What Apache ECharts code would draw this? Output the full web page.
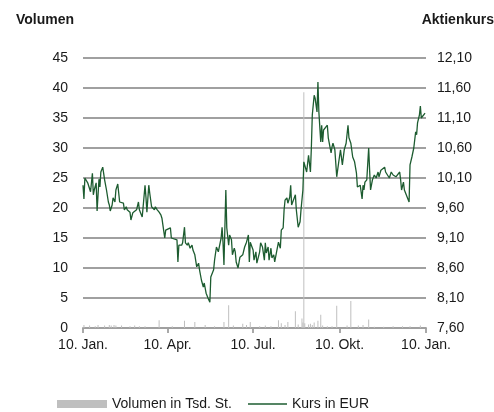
<!DOCTYPE html>
<html><head><meta charset="utf-8">
<script src="https://cdn.jsdelivr.net/npm/echarts@6/dist/echarts.min.js"></script>
<style>html,body{margin:0;padding:0;background:#fff}#c{width:494px;height:412px}</style>
</head><body><div id="c"></div>
<script>
// x tick positions (days since 10 Jan) and labels
const xTickDays = [0, 90, 181, 273, 365];
const xTickLabels = ['10. Jan.', '10. Apr.', '10. Jul.', '10. Okt.', '10. Jan.'];

// Share price (EUR), days since 10 Jan
const kursDays = [0,1,2,5,6,8,9,10,11,12,14,15,17,18,19,21,23,25,27,28,29,31,32,34,35,37,38,39,41,43,44,46,47,49,50,51,53,55,57,59,60,61,63,64,66,67,68,70,71,73,74,76,77,79,81,83,84,85,87,88,90,93,
94,96,100,101,102,105,106,108,109,111,112,114,116,117,119,121,123,124,126,128,129,131,132,133,135,136,138,139,140,142,144,145,147,148,149,150,152,153,155,156,158,159,161,162,163,165,167,170,172,174,176,177,178,181,182,184,185,188,189,191,193,194,195,197,198,200,201,203,204,206,208,210,211,213,214,215,217,218,220,221,222,224,226,227,229,231,232,234,235,237,238,240,242,243,244,246,247,249,250,251,253,254,255,256,258,260,261,264,265,266,268,270,272,274,276,278,280,282,283,285,287,289,290,291,292,294,295,297,298,299,300,302,304,305,306,308,310,312,314,315,317,319,321,322,324,326,328,330,331,333,335,337,338,339,341,342,344,347,348,350,352,354,355,356,358,359,360,362,364];
const kursValues = [9.98,9.75,10.10,10.02,10.02,9.87,10.02,10.18,9.82,9.90,10.02,9.55,10.08,9.95,10.20,10.28,10.07,9.90,9.70,9.65,9.55,9.65,9.77,9.70,9.90,10.00,9.85,9.70,9.72,9.68,9.57,9.62,9.57,9.60,9.53,9.40,9.52,9.53,9.57,9.70,9.57,9.53,9.45,9.62,9.98,9.78,9.53,9.98,9.85,9.62,9.65,9.57,9.62,9.57,9.53,9.48,9.43,9.32,9.10,9.23,9.20,9.27,
9.10,9.10,9.07,8.70,8.98,8.98,9.02,9.28,9.02,8.98,9.02,8.93,8.98,8.90,8.82,8.62,8.68,8.57,8.40,8.28,8.35,8.18,8.15,8.10,8.03,8.45,8.48,8.57,8.73,8.95,8.87,8.85,9.10,9.28,9.02,8.65,9.90,9.27,8.98,9.15,9.07,8.82,8.93,8.87,8.70,8.60,8.78,8.82,8.95,9.03,9.15,8.70,9.03,8.90,8.73,8.87,8.68,8.87,9.02,8.95,8.73,9.02,8.85,8.95,8.73,8.93,8.77,8.82,8.70,8.87,9.03,8.93,9.23,9.27,9.57,9.73,9.77,9.68,9.78,9.98,9.65,9.68,9.82,9.57,9.28,9.37,9.57,9.90,10.37,10.35,10.20,10.48,10.20,10.60,11.15,11.48,11.43,11.20,11.70,11.20,10.70,10.98,10.70,10.90,10.93,10.98,10.77,10.52,10.62,10.68,10.57,10.12,10.35,10.57,10.32,10.57,10.68,10.98,10.77,10.68,10.45,10.37,10.40,10.18,9.95,9.93,9.98,9.75,9.98,9.90,10.03,10.07,10.60,10.23,9.90,10.07,10.15,10.10,10.20,10.12,10.23,10.20,10.28,10.20,10.23,10.10,10.20,10.15,10.12,10.12,10.15,10.20,10.07,9.90,10.03,9.90,9.90,9.70,10.32,10.45,10.60,10.87,10.82,11.02,11.15,11.30,11.10,11.12,11.18];

// Volume (Tsd. St.)
const volDays = [1,7,13,16,23,28,30,33,35,41,50,55,60,66,81,95,108,119,130,140,150,155,160,170,174,178,188,194,200,208,211,215,218,226,229,233,234,235,236,240,242,244,246,250,253,255,260,265,270,281,285,293,298,304,310,320,330,340,348,359];
const volValues = [0.5,0.4,0.3,0.5,0.4,0.5,0.4,0.5,0.4,0.4,0.3,0.4,0.3,0.3,1.3,0.3,1.2,1.0,0.5,0.3,1.0,3.8,0.4,0.7,0.5,1.0,0.3,0.4,0.3,1.3,0.8,0.5,1.0,2.8,0.6,1.6,0.9,39.3,0.8,0.6,0.7,0.5,0.9,1.2,2.2,0.4,0.3,0.3,3.7,0.4,4.5,0.4,0.5,1.4,0.2,0.2,0.3,0.3,0.3,0.4];

const FONT = 'Liberation Sans';
const TXT = '#1a1a1a';
const GRID = '#a0a0a0';
const chart = echarts.init(document.getElementById('c'), null, {renderer: 'canvas'});
chart.setOption({
  animation: false,
  textStyle: {fontFamily: FONT},
  grid: {left: 83, right: 68, top: 58, bottom: 84},
  graphic: [
    {type: 'text', left: 16, top: 13, style: {text: 'Volumen', font: 'bold 14px ' + FONT, fill: TXT}},
    {type: 'text', right: 0, top: 13, style: {text: 'Aktienkurs', font: 'bold 14px ' + FONT, fill: TXT}}
  ],
  legend: [
    {data: [{name: 'Volumen in Tsd. St.', icon: 'rect'}], left: 57, top: 397, padding: 0, itemWidth: 50, itemHeight: 8, itemGap: 6,
     textStyle: {fontSize: 14, color: TXT, fontFamily: FONT}},
    {data: [{name: 'Kurs in EUR', icon: 'rect'}], left: 248, top: 397, padding: 0, itemWidth: 39, itemHeight: 1.5, itemGap: 6,
     textStyle: {fontSize: 14, color: TXT, fontFamily: FONT}}
  ],
  xAxis: {
    type: 'value', min: 0, max: 365,
    axisLine: {show: true, lineStyle: {color: GRID, width: 1.8}},
    axisTick: {show: true, customValues: xTickDays, length: 5, lineStyle: {color: GRID, width: 1.8}},
    axisLabel: {customValues: xTickDays, margin: 10, fontSize: 14, color: TXT, fontFamily: FONT,
      formatter: v => xTickLabels[xTickDays.indexOf(Math.round(v))] || ''},
    splitLine: {show: false}
  },
  yAxis: [
    {type: 'value', min: 0, max: 45, interval: 5, position: 'left',
     axisLine: {show: false}, axisTick: {show: false},
     axisLabel: {margin: 15, fontSize: 14, color: TXT, fontFamily: FONT},
     splitLine: {show: true, lineStyle: {color: GRID, width: 1.8}}},
    {type: 'value', min: 7.6, max: 12.1, interval: 0.5, position: 'right',
     axisLine: {show: false}, axisTick: {show: false}, splitLine: {show: false},
     axisLabel: {margin: 11, fontSize: 14, color: TXT, fontFamily: FONT,
       formatter: v => v.toFixed(2).replace('.', ',')}}
  ],
  series: [
    {name: 'Volumen in Tsd. St.', type: 'bar', yAxisIndex: 0, barWidth: 1,
     itemStyle: {color: '#bfbfbf'},
     data: volDays.map((d, i) => [d, volValues[i]])},
    {name: 'Kurs in EUR', type: 'line', yAxisIndex: 1, symbol: 'none',
     lineStyle: {color: '#1d5c30', width: 1.3}, itemStyle: {color: '#1d5c30'},
     data: kursDays.map((d, i) => [d, kursValues[i]])}
  ]
});
</script></body></html>
